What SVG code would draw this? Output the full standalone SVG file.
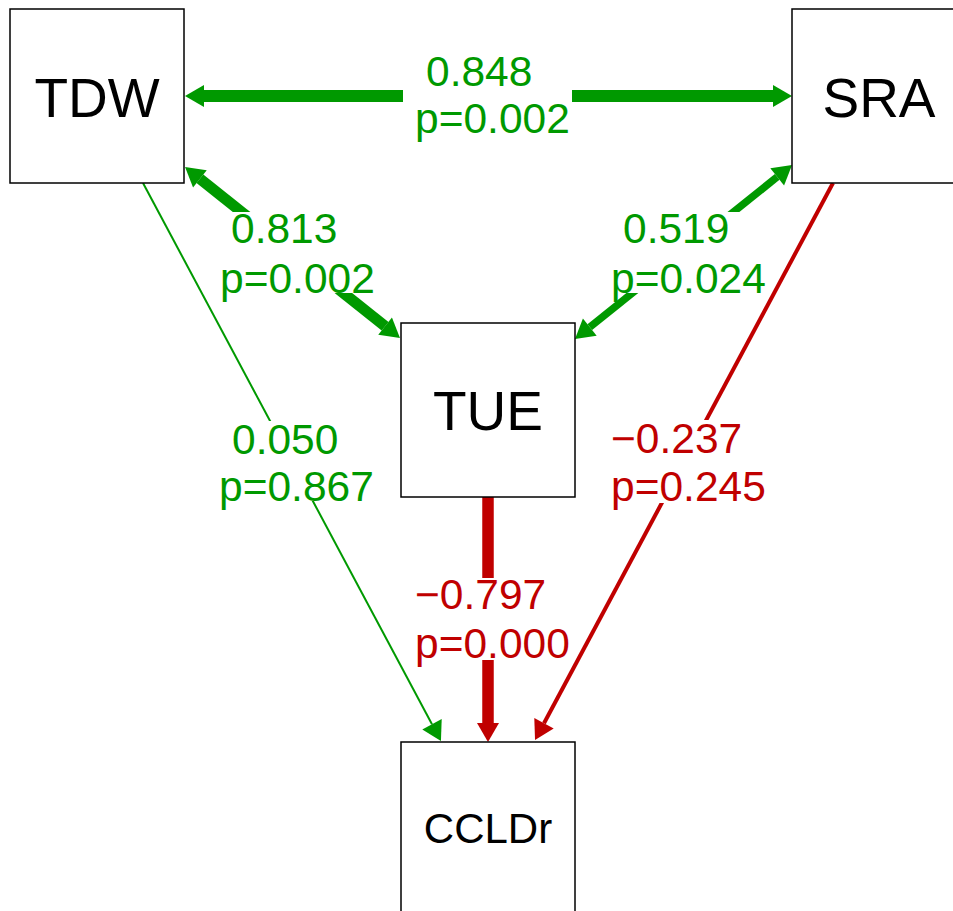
<svg xmlns="http://www.w3.org/2000/svg" width="953" height="911" viewBox="0 0 953 911">
<style>
.box{fill:#fff;stroke:#000;stroke-width:1.5}
.nt{font-family:"Liberation Sans",Arial,sans-serif;fill:#000;text-anchor:middle}
.lb{font-family:"Liberation Sans",Arial,sans-serif;font-size:42.5px}
.g{fill:#009900}
.r{fill:#c00000}
.cg{stroke:#009900;fill:none}
.cr{stroke:#c00000;fill:none}
</style>
<defs>
<marker id="ag" markerUnits="userSpaceOnUse" markerWidth="20" markerHeight="24" refX="0" refY="11" orient="auto-start-reverse" viewBox="0 0 20 22" overflow="visible">
<path d="M0,0 L19,11 L0,22 Z" fill="#009900"/>
</marker>
<marker id="ar" markerUnits="userSpaceOnUse" markerWidth="20" markerHeight="24" refX="0" refY="11" orient="auto" viewBox="0 0 20 22" overflow="visible">
<path d="M0,0 L19,11 L0,22 Z" fill="#c00000"/>
</marker>
<clipPath id="holes">
<path clip-rule="evenodd" d="M0,0H953V911H0Z M403,50H572V140H403Z M222,212H373V293H222Z M613,212H765V293H613Z M222,421H373V501H222Z M611,420H765V503H611Z M415,578H570V660H415Z"/>
</clipPath>
</defs>
<rect width="953" height="911" fill="#fff"/>
<g id="connectors" clip-path="url(#holes)">
<line class="cg" x1="204" y1="96" x2="773" y2="96" stroke-width="12" marker-start="url(#ag)" marker-end="url(#ag)"/>
<line class="cg" x1="199.9" y1="178.8" x2="385.1" y2="326.2" stroke-width="11" marker-start="url(#ag)" marker-end="url(#ag)"/>
<line class="cg" x1="777.2" y1="176.9" x2="589.8" y2="327.1" stroke-width="7.5" marker-start="url(#ag)" marker-end="url(#ag)"/>
<line class="cg" x1="143" y1="183" x2="432" y2="724.2" stroke-width="2" marker-end="url(#ag)"/>
<line class="cr" x1="833" y1="183" x2="544" y2="723.2" stroke-width="4" marker-end="url(#ar)"/>
<line class="cr" x1="488" y1="497" x2="488" y2="723" stroke-width="11.5" marker-end="url(#ar)"/>
</g>
<g id="labels">
<text class="lb g" x="426" y="86">0.848</text>
<text class="lb g" x="415" y="133">p=0.002</text>
<text class="lb g" x="231" y="243">0.813</text>
<text class="lb g" x="220" y="293">p=0.002</text>
<text class="lb g" x="623" y="243">0.519</text>
<text class="lb g" x="611" y="293">p=0.024</text>
<text class="lb g" x="232" y="454">0.050</text>
<text class="lb g" x="219" y="501">p=0.867</text>
<text class="lb r" x="611" y="453">−0.237</text>
<text class="lb r" x="611" y="501">p=0.245</text>
<text class="lb r" x="415" y="609">−0.797</text>
<text class="lb r" x="415" y="658">p=0.000</text>
</g>
<g id="TDW">
<rect class="box" x="10" y="9" width="174" height="174"/>
<text class="nt" x="97" y="117" font-size="55">TDW</text>
</g>
<g id="SRA">
<rect class="box" x="792" y="9" width="174" height="174"/>
<text class="nt" x="879" y="117" font-size="55">SRA</text>
</g>
<g id="TUE">
<rect class="box" x="401" y="323" width="174" height="174"/>
<text class="nt" x="488" y="430" font-size="55">TUE</text>
</g>
<g id="CCLDr">
<rect class="box" x="401" y="742" width="174" height="174"/>
<text class="nt" x="488" y="843" font-size="42">CCLDr</text>
</g>
</svg>
